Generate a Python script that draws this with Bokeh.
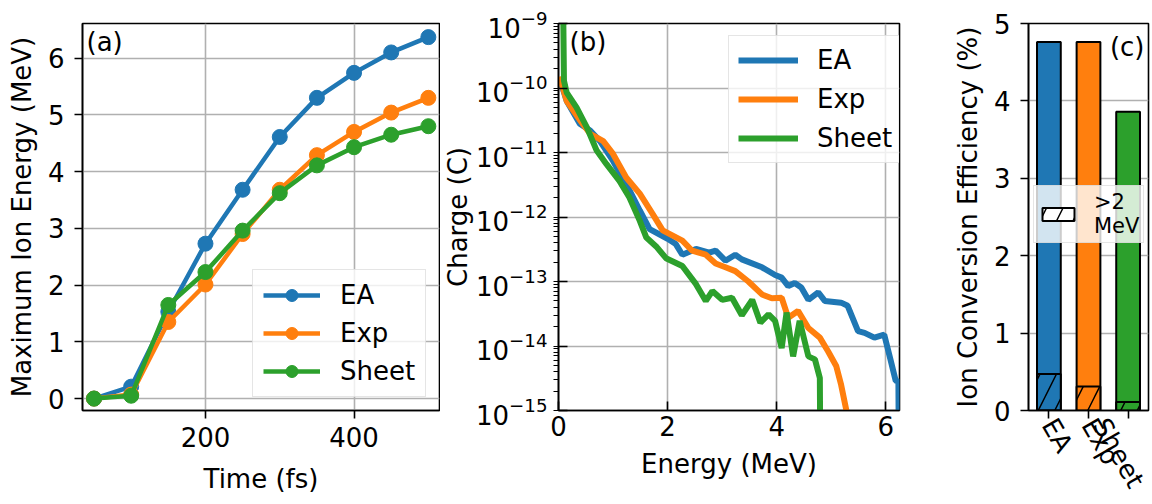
import math
from bokeh.plotting import figure
from bokeh.models import Range1d, Legend, LegendItem, Label
from bokeh.layouts import row
from bokeh.embed import file_html
from bokeh.resources import INLINE

# ---------------- data ----------------
# (a) maximum ion energy vs time
time_fs = [50, 100, 150, 200, 250, 300, 350, 400, 450, 500]
ea_max_mev = [0.0, 0.21, 1.53, 2.73, 3.68, 4.61, 5.30, 5.74, 6.10, 6.37]
exp_max_mev = [0.0, 0.07, 1.35, 2.01, 2.90, 3.68, 4.29, 4.70, 5.04, 5.30]
sheet_max_mev = [0.0, 0.05, 1.65, 2.23, 2.96, 3.62, 4.11, 4.43, 4.65, 4.80]

# (b) charge spectra
ea_energy = [0.02, 0.15, 0.39, 0.58, 0.76, 1.00, 1.30, 1.49, 1.67, 2.00, 2.15, 2.27,
             2.52, 2.76, 2.88, 3.06, 3.24, 3.36, 3.73, 3.97, 4.09, 4.21, 4.33, 4.45,
             4.58, 4.76, 4.88, 5.18, 5.30, 5.49, 5.61, 5.79, 5.97, 6.09, 6.18, 6.23, 6.24]
ea_charge = [1.4e-10, 6.3e-11, 2.8e-11, 2.2e-11, 1.5e-11, 7.4e-12, 2.6e-12, 1.26e-12,
             6.5e-13, 4.6e-13, 3.8e-13, 2.6e-13, 3.2e-13, 2.8e-13, 3.0e-13, 2.1e-13,
             2.6e-13, 2.2e-13, 1.66e-13, 1.26e-13, 1.15e-13, 8.5e-14, 9.5e-14, 8.1e-14,
             5.2e-14, 6.8e-14, 5.0e-14, 4.7e-14, 4.2e-14, 1.7e-14, 1.6e-14, 1.35e-14,
             1.5e-14, 5.9e-15, 2.9e-15, 2.8e-15, 1e-16]
exp_energy = [0.02, 0.15, 0.39, 0.58, 0.82, 1.00, 1.24, 1.49, 1.73, 1.91, 2.27, 2.45,
              2.70, 2.88, 3.06, 3.24, 3.48, 3.73, 3.91, 4.09, 4.21, 4.39, 4.58, 4.79,
              4.94, 5.09, 5.18, 5.30]
exp_charge = [1.5e-10, 6.3e-11, 3.2e-11, 1.95e-11, 1.5e-11, 9.5e-12, 4.1e-12, 2.3e-12,
              1.1e-12, 6.2e-13, 4.3e-13, 3.0e-13, 2.6e-13, 1.9e-13, 1.66e-13, 1.45e-13,
              1.0e-13, 6.3e-14, 5.5e-14, 5.6e-14, 2.75e-14, 3.5e-14, 1.9e-14, 1.35e-14,
              8.3e-15, 4.9e-15, 2.5e-15, 8e-16]
sheet_energy = [0.08, 0.10, 0.15, 0.33, 0.52, 0.70, 0.88, 1.12, 1.30, 1.49, 1.61, 1.79,
                1.97, 2.27, 2.52, 2.70, 2.82, 3.00, 3.18, 3.36, 3.55, 3.70, 3.85, 3.97,
                4.09, 4.18, 4.30, 4.42, 4.58, 4.70, 4.79, 4.80]
sheet_charge = [5e-9, 1.3e-10, 8.5e-11, 5.0e-11, 2.45e-11, 1.07e-11, 6.6e-12, 3.6e-12,
                2.0e-12, 8.7e-13, 4.8e-13, 3.5e-13, 2.3e-13, 1.74e-13, 9.1e-14, 5.0e-14,
                7.1e-14, 5.2e-14, 5.6e-14, 3.0e-14, 5.2e-14, 2.3e-14, 3.1e-14, 2.45e-14,
                9.3e-15, 3.3e-14, 6.9e-15, 2.45e-14, 6.9e-15, 6.2e-15, 3.2e-15, 1e-16]

# (c) conversion efficiency
targets = ["EA", "Exp", "Sheet"]
total_eff = [4.76, 4.76, 3.86]
high_energy_eff = [0.47, 0.31, 0.11]

# ---------------- style ----------------
BLUE, ORANGE, GREEN = "#1f77b4", "#ff7f0e", "#2ca02c"
FONT = "DejaVu Sans"
FS = "26px"
GRID = "#b0b0b0"
H = 504
TOP = 23
BOTTOM = 94


def style(p):
    p.outline_line_color = "black"
    p.outline_line_width = 1.6
    p.background_fill_color = "white"
    for ax in p.axis:
        ax.axis_line_width = 1.6
        ax.axis_line_color = "black"
        ax.major_tick_line_width = 1.6
        ax.minor_tick_line_width = 1.2
        ax.major_label_text_font = FONT
        ax.major_label_text_font_size = FS
        ax.major_label_text_color = "black"
        ax.axis_label_text_font = FONT
        ax.axis_label_text_font_size = FS
        ax.axis_label_text_font_style = "normal"
        ax.axis_label_text_color = "black"
    p.grid.grid_line_color = GRID
    p.grid.grid_line_width = 1.6


def style_legend(lg, fs=FS):
    lg.label_text_font = FONT
    lg.label_text_font_size = fs
    lg.label_text_color = "black"
    lg.border_line_color = "#cccccc"
    lg.border_line_width = 1.5
    lg.background_fill_alpha = 0.8
    lg.margin = 0


def panel_label(p, text, **kw):
    p.add_layout(Label(text=text, text_font=FONT, text_font_size=FS,
                       text_color="black", **kw))


# ---------------- (a) ----------------
p1 = figure(width=440, height=H, x_range=Range1d(34.5, 515), y_range=Range1d(-0.21, 6.61),
            output_backend="svg", toolbar_location=None,
            min_border_left=82, min_border_right=1, min_border_top=TOP, min_border_bottom=BOTTOM)
style(p1)
p1.xaxis.ticker = [200, 400]
p1.yaxis.ticker = [0, 1, 2, 3, 4, 5, 6]
for ax in p1.axis:
    ax.major_tick_out = 8
    ax.major_tick_in = 0
    ax.minor_tick_out = 0
    ax.minor_tick_in = 0
p1.xaxis.major_label_standoff = 8
p1.xaxis.axis_label_standoff = 14
p1.yaxis.major_label_standoff = 10
p1.yaxis.axis_label_standoff = 8
p1.xaxis.axis_label = "Time (fs)"
p1.yaxis.axis_label = "Maximum Ion Energy (MeV)"

items = []
for name, ys, col in [("EA", ea_max_mev, BLUE), ("Exp", exp_max_mev, ORANGE),
                      ("Sheet", sheet_max_mev, GREEN)]:
    rl = p1.line(time_fs, ys, line_color=col, line_width=4.5)
    rs = p1.scatter(time_fs, ys, size=15, fill_color=col, line_color=col)
    items.append(LegendItem(label=name, renderers=[rl, rs]))
lg1 = Legend(items=items, location=(170, 13), glyph_width=57, glyph_height=30,
             label_height=30, spacing=8, padding=10, label_standoff=20)
style_legend(lg1)
p1.add_layout(lg1)
panel_label(p1, "(a)", x=p1.x_range.start, y=p1.y_range.end, x_offset=4, y_offset=-3,
            text_baseline="top")

# ---------------- (b) ----------------
p2 = figure(width=464, height=H, x_range=Range1d(0, 6.25), y_range=Range1d(1e-15, 1e-9),
            y_axis_type="log", output_backend="svg", toolbar_location=None,
            min_border_left=115, min_border_right=5, min_border_top=TOP, min_border_bottom=BOTTOM)
style(p2)
p2.xaxis.ticker = [0, 2, 4, 6]
for ax in p2.axis:
    ax.major_tick_out = 0
    ax.major_tick_in = 9
p2.xaxis.minor_tick_out = 0
p2.xaxis.minor_tick_in = 0
p2.yaxis.minor_tick_out = 5
p2.yaxis.minor_tick_in = 0
p2.xaxis.major_label_standoff = 5
p2.xaxis.axis_label_standoff = 10
p2.yaxis.major_label_standoff = 6
p2.yaxis.axis_label_standoff = 0
p2.xaxis.axis_label = "Energy (MeV)"
p2.yaxis.axis_label = "Charge (C)"

items2 = []
for name, xs, ys, col in [("EA", ea_energy, ea_charge, BLUE), ("Exp", exp_energy, exp_charge, ORANGE),
                          ("Sheet", sheet_energy, sheet_charge, GREEN)]:
    rl = p2.line(xs, ys, line_color=col, line_width=6)
    items2.append(LegendItem(label=name, renderers=[rl]))
lg2 = Legend(items=items2, location=(170, 247), glyph_width=60, glyph_height=30,
             label_height=30, spacing=9, padding=9, label_standoff=19)
style_legend(lg2)
p2.add_layout(lg2)
panel_label(p2, "(b)", x=p2.x_range.start, y=p2.y_range.end, x_offset=11, y_offset=-3,
            text_baseline="top")

# ---------------- (c) ----------------
positions = list(range(len(targets)))
p3 = figure(width=246, height=H, x_range=Range1d(-0.515, len(targets) - 0.485),
            y_range=Range1d(0, 5), output_backend="svg", toolbar_location=None,
            min_border_left=124, min_border_right=2, min_border_top=TOP, min_border_bottom=BOTTOM)
style(p3)
p3.xgrid.visible = False
p3.xaxis.ticker = positions
p3.xaxis.major_label_overrides = {i: t for i, t in zip(positions, targets)}
p3.yaxis.ticker = [0, 1, 2, 3, 4, 5]
for ax in p3.axis:
    ax.major_tick_out = 8
    ax.major_tick_in = 0
    ax.minor_tick_out = 0
    ax.minor_tick_in = 0
p3.xaxis.major_label_orientation = -math.pi / 3
p3.xaxis.major_label_standoff = 2
p3.yaxis.major_label_standoff = 10
p3.yaxis.axis_label_standoff = 8
p3.yaxis.axis_label = "Ion Conversion Efficiency (%)"

bar_colors = [BLUE, ORANGE, GREEN]
p3.vbar(x=positions, top=total_eff, width=0.6, fill_color=bar_colors, line_color="black",
        line_width=2)
p3.vbar(x=positions, top=high_energy_eff, width=0.6, fill_color=bar_colors, line_color="black",
        line_width=2, hatch_pattern="/", hatch_color="black", hatch_scale=33, hatch_weight=1.5)
# legend proxy: zero-height bar sitting on the baseline of the first bar
proxy = p3.vbar(x=positions[:1], top=[0], bottom=[0], width=0.6, fill_color="white",
                line_color="black", line_width=2, hatch_pattern="/", hatch_color="black",
                hatch_scale=33, hatch_weight=1.5)
lg3 = Legend(items=[LegendItem(label=">2\nMeV", renderers=[proxy])], location=(5, 167),
             glyph_width=40, glyph_height=16, label_height=20, padding=4, label_standoff=16)
style_legend(lg3, fs="21px")
p3.add_layout(lg3)
panel_label(p3, "(c)", x=p3.x_range.end, y=p3.y_range.end, x_offset=-4, y_offset=-8,
            text_align="right", text_baseline="top")

layout = row(p1, p2, p3)
open("out.html", "w").write(file_html(layout, INLINE))
